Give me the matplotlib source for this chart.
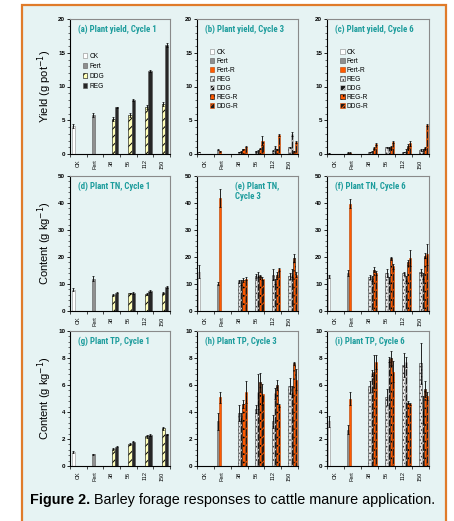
import numpy as np
import matplotlib
matplotlib.use("Agg")
import matplotlib.pyplot as plt
from matplotlib import font_manager
from matplotlib.patches import Rectangle, Patch
from matplotlib.ticker import AutoMinorLocator, MultipleLocator

# categories (x axis)
cats = ["CK", "Fert", "38", "56", "112", "150"]

# ---- Cycle 1: controls (CK, Fert) and rate series (DDG, REG)
c1_yield_ctrl = [4.1, 5.8]
c1_yield_ctrl_err = [0.3, 0.3]
c1_yield_ddg = [5.2, 5.8, 7.0, 7.4]
c1_yield_ddg_err = [0.3, 0.3, 0.3, 0.3]
c1_yield_reg = [6.9, 8.0, 12.3, 16.2]
c1_yield_reg_err = [0.1, 0.1, 0.2, 0.3]

c1_tn_ctrl = [7.9, 12.0]
c1_tn_ctrl_err = [0.6, 1.0]
c1_tn_ddg = [6.0, 6.5, 6.3, 6.7]
c1_tn_ddg_err = [0.4, 0.3, 0.3, 0.4]
c1_tn_reg = [6.8, 6.7, 7.4, 8.8]
c1_tn_reg_err = [0.3, 0.3, 0.3, 0.3]

c1_tp_ctrl = [1.05, 0.87]
c1_tp_ctrl_err = [0.05, 0.05]
c1_tp_ddg = [1.25, 1.62, 2.2, 2.8]
c1_tp_ddg_err = [0.08, 0.1, 0.12, 0.12]
c1_tp_reg = [1.43, 1.8, 2.3, 2.35]
c1_tp_reg_err = [0.05, 0.05, 0.05, 0.05]

# ---- Cycles 3 and 6: controls (CK, Fert, Fert-R), rates rows = REG, DDG, REG-R, DDG-R
c3_yield_ctrl = [0.3, 0.6, 0.4]
c3_yield_ctrl_err = [0.05, 0.08, 0.05]
c3_yield_rates = [[0.3, 0.4, 0.5, 1.0],
                  [0.4, 0.5, 1.0, 3.0],
                  [0.7, 0.8, 0.7, 0.4],
                  [1.1, 2.0, 2.8, 1.8]]
c3_yield_rates_err = [[0.05, 0.05, 0.1, 0.1],
                      [0.1, 0.1, 0.2, 0.3],
                      [0.1, 0.1, 0.1, 0.1],
                      [0.1, 0.7, 0.2, 0.2]]

c3_tn_ctrl = [14.6, 10.1, 41.8]
c3_tn_ctrl_err = [2.5, 0.5, 3.3]
c3_tn_rates = [[11.0, 13.0, 13.5, 13.0],
               [10.5, 13.5, 11.0, 14.0],
               [11.5, 13.0, 13.5, 19.5],
               [12.0, 12.0, 15.5, 13.5]]
c3_tn_rates_err = [[0.6, 0.8, 2.0, 1.0],
                   [0.8, 1.0, 1.0, 1.5],
                   [0.8, 0.5, 1.0, 1.5],
                   [0.5, 0.5, 0.5, 1.0]]

c3_tp_ctrl = [0.0, 3.3, 5.1]
c3_tp_ctrl_err = [0.0, 0.6, 0.4]
c3_tp_rates = [[3.9, 4.2, 3.3, 5.9],
               [3.6, 5.5, 5.4, 5.5],
               [4.6, 6.2, 6.0, 7.6],
               [5.5, 5.3, 4.5, 6.4]]
c3_tp_rates_err = [[0.6, 0.3, 0.5, 0.6],
                   [0.3, 1.3, 0.4, 0.4],
                   [0.3, 0.7, 0.35, 0.1],
                   [0.8, 0.8, 0.1, 0.8]]

c6_yield_ctrl = [0.1, 0.2, 0.2]
c6_yield_ctrl_err = [0.05, 0.05, 0.05]
c6_yield_rates = [[0.3, 1.0, 0.3, 0.6],
                  [0.4, 1.0, 0.5, 0.6],
                  [0.9, 1.0, 1.2, 0.9],
                  [1.5, 1.8, 1.6, 4.3]]
c6_yield_rates_err = [[0.05, 0.1, 0.05, 0.1],
                      [0.1, 0.1, 0.2, 0.1],
                      [0.1, 0.2, 0.3, 0.1],
                      [0.2, 0.1, 0.4, 0.2]]

c6_tn_ctrl = [12.9, 14.1, 39.8]
c6_tn_ctrl_err = [0.5, 1.0, 1.6]
c6_tn_rates = [[12.5, 14.0, 14.0, 14.5],
               [12.0, 11.5, 12.0, 13.0],
               [15.3, 19.5, 18.0, 20.5],
               [14.0, 16.5, 19.5, 21.0]]
c6_tn_rates_err = [[0.8, 1.5, 0.5, 1.0],
                   [0.8, 1.0, 1.0, 1.0],
                   [1.0, 0.5, 1.0, 1.0],
                   [0.8, 0.8, 3.0, 4.0]]

c6_tp_ctrl = [3.3, 2.7, 5.0]
c6_tp_ctrl_err = [0.4, 0.35, 0.5]
c6_tp_rates = [[5.9, 5.1, 7.5, 7.6],
               [6.9, 7.9, 7.7, 4.2],
               [7.0, 8.0, 4.7, 5.7],
               [7.7, 7.0, 4.6, 5.2]]
c6_tp_rates_err = [[0.4, 0.6, 0.9, 1.5],
                   [0.2, 0.2, 0.4, 1.0],
                   [1.2, 0.5, 0.1, 0.6],
                   [0.5, 0.8, 0.1, 0.3]]

# ---- fonts
names = {f.name for f in font_manager.fontManager.ttflist}
narrow = next((n for n in ["Liberation Sans Narrow", "DejaVu Sans Condensed", "Roboto Condensed"]
               if n in names), "Liberation Sans")
plt.rcParams['font.family'] = ['Liberation Sans', 'DejaVu Sans']
plt.rcParams['hatch.linewidth'] = 0.7

BG = '#e6f3f3'
ORANGE = '#ff5a00'
TEAL = '#1c9c9c'

# bar styles
st_ck = dict(color='white', edgecolor='#888888')
st_fert = dict(color='#8f8f8f', edgecolor='#5a5a5a')
st_fertr = dict(color=ORANGE, edgecolor='#b84000')
st_ddg1 = dict(color='#ffffb8', edgecolor='black', hatch='////')
st_reg1 = dict(color='#262626', edgecolor='#555555')
st_rates = [dict(color='#e8e8e8', edgecolor='#333333', hatch='.....'),  # REG
            dict(color='#1a1a1a', edgecolor='#dddddd', hatch='////'),   # DDG
            dict(color=ORANGE, edgecolor='black', hatch='....'),        # REG-R
            dict(color='#1a1a1a', edgecolor=ORANGE, hatch='////')]      # DDG-R

x = np.arange(len(cats))


def bar(ax, xs, h, w, err, st):
    ax.bar(xs, h, w, linewidth=0.4, **st)
    ax.errorbar(xs, h, yerr=err, fmt='none', ecolor='black', elinewidth=0.6,
                capsize=1, capthick=0.5)


def style(ax, ymax, ystep, title, tx=0.08):
    ax.set_facecolor(BG)
    ax.set_xlim(-0.5, 5.5)
    ax.set_ylim(0, ymax)
    ax.yaxis.set_major_locator(MultipleLocator(ystep))
    ax.yaxis.set_minor_locator(AutoMinorLocator(5))
    ax.set_xticks(x)
    ax.set_xticklabels(cats, rotation=90, fontsize=4)
    ax.set_xticks(np.arange(-0.5, 6, 1), minor=True)
    ax.tick_params(axis='x', which='major', length=0, pad=4)
    ax.tick_params(axis='x', which='minor', length=2, width=0.5)
    ax.tick_params(axis='y', which='major', length=2, width=0.6, labelsize=4.5, pad=1.5)
    ax.tick_params(axis='y', which='minor', length=1.2, width=0.4)
    for lab in ax.get_yticklabels():
        lab.set_fontweight('bold')
    for s in ['top', 'right']:
        ax.spines[s].set_color('#8a8a8a')
        ax.spines[s].set_linewidth(0.8)
    for s in ['left', 'bottom']:
        ax.spines[s].set_color('black')
        ax.spines[s].set_linewidth(0.8)
    ax.text(tx, 0.955, title, transform=ax.transAxes,
            ha='left', va='top', color=TEAL, fontsize=6.3, fontweight='bold',
            family=[narrow, 'DejaVu Sans'], linespacing=1.1)


def panel_c1(ax, ctrl, ctrl_err, ddg, ddg_err, reg, reg_err):
    w = 0.2
    bar(ax, [0 - 1.5 * w], [ctrl[0]], w, [ctrl_err[0]], st_ck)
    bar(ax, [1 - 0.5 * w], [ctrl[1]], w, [ctrl_err[1]], st_fert)
    bar(ax, x[2:] + 0.5 * w, ddg, w, ddg_err, st_ddg1)
    bar(ax, x[2:] + 1.5 * w, reg, w, reg_err, st_reg1)


def panel_c36(ax, ctrl, ctrl_err, rates, rates_err):
    w = 0.13
    if ctrl[0] > 0:
        bar(ax, [0 - 3 * w], [ctrl[0]], w, [ctrl_err[0]], st_ck)
    bar(ax, [1 - 2 * w], [ctrl[1]], w, [ctrl_err[1]], st_fert)
    bar(ax, [1 - 1 * w], [ctrl[2]], w, [ctrl_err[2]], st_fertr)
    for i in range(4):
        bar(ax, x[2:] + i * w, rates[i], w, rates_err[i], st_rates[i])


def legend(ax, labels, styles, loc, spacing):
    handles = [Patch(facecolor=s['color'], edgecolor=s['edgecolor'], hatch=s.get('hatch'),
                     linewidth=0.4) for s in styles]
    ax.legend(handles, labels, loc='upper left', bbox_to_anchor=loc, frameon=False,
              fontsize=4.8, handlelength=0.7, handleheight=0.7, handletextpad=0.3,
              labelspacing=spacing, borderaxespad=0)


fig = plt.figure(figsize=(4.54, 5.21), dpi=100)
fig.patch.set_facecolor('white')
fig.patches.append(Rectangle((22 / 454, -0.01), 424 / 454, 1 - 5 / 521 + 0.01,
                             transform=fig.transFigure, facecolor=BG,
                             edgecolor='#e07b2a', linewidth=1.6, zorder=-1))

lefts = [70 / 454, 197 / 454, 327 / 454]
widths = [100 / 454, 101 / 454, 102 / 454]
bottoms = [1 - 154 / 521, 1 - 311 / 521, 1 - 466 / 521]
h = 135 / 521
axs = [[fig.add_axes([lefts[c], bottoms[r], widths[c], h]) for c in range(3)] for r in range(3)]

# row 1: yield
panel_c1(axs[0][0], c1_yield_ctrl, c1_yield_ctrl_err, c1_yield_ddg, c1_yield_ddg_err,
         c1_yield_reg, c1_yield_reg_err)
panel_c36(axs[0][1], c3_yield_ctrl, c3_yield_ctrl_err, c3_yield_rates, c3_yield_rates_err)
panel_c36(axs[0][2], c6_yield_ctrl, c6_yield_ctrl_err, c6_yield_rates, c6_yield_rates_err)
style(axs[0][0], 20, 5, '(a) Plant yield, Cycle 1')
style(axs[0][1], 20, 5, '(b) Plant yield, Cycle 3')
style(axs[0][2], 20, 5, '(c) Plant yield, Cycle 6')

# row 2: TN
panel_c1(axs[1][0], c1_tn_ctrl, c1_tn_ctrl_err, c1_tn_ddg, c1_tn_ddg_err,
         c1_tn_reg, c1_tn_reg_err)
panel_c36(axs[1][1], c3_tn_ctrl, c3_tn_ctrl_err, c3_tn_rates, c3_tn_rates_err)
panel_c36(axs[1][2], c6_tn_ctrl, c6_tn_ctrl_err, c6_tn_rates, c6_tn_rates_err)
style(axs[1][0], 50, 10, '(d) Plant TN, Cycle 1')
style(axs[1][1], 50, 10, '(e) Plant TN,\nCycle 3', tx=0.38)
style(axs[1][2], 50, 10, '(f) Plant TN, Cycle 6')

# row 3: TP
panel_c1(axs[2][0], c1_tp_ctrl, c1_tp_ctrl_err, c1_tp_ddg, c1_tp_ddg_err,
         c1_tp_reg, c1_tp_reg_err)
panel_c36(axs[2][1], c3_tp_ctrl, c3_tp_ctrl_err, c3_tp_rates, c3_tp_rates_err)
panel_c36(axs[2][2], c6_tp_ctrl, c6_tp_ctrl_err, c6_tp_rates, c6_tp_rates_err)
style(axs[2][0], 10, 2, '(g) Plant TP, Cycle 1')
style(axs[2][1], 10, 2, '(h) Plant TP, Cycle 3')
style(axs[2][2], 10, 2, '(i) Plant TP, Cycle 6')

legend(axs[0][0], ['CK', 'Fert', 'DDG', 'REG'], [st_ck, st_fert, st_ddg1, st_reg1],
       (0.1, 0.77), 0.45)
lab7 = ['CK', 'Fert', 'Fert-R', 'REG', 'DDG', 'REG-R', 'DDG-R']
sty7 = [st_ck, st_fert, st_fertr] + st_rates
legend(axs[0][1], lab7, sty7, (0.1, 0.8), 0.3)
legend(axs[0][2], lab7, sty7, (0.1, 0.8), 0.3)

# y labels
ylabs = ['Yield (g pot$^{-1}$)', 'Content (g kg$^{-1}$)', 'Content (g kg$^{-1}$)']
for r in range(3):
    yc = bottoms[r] + h / 2
    fig.text(45 / 454, yc, ylabs[r], rotation=90, ha='center', va='center', fontsize=8)

# caption
t1 = fig.text(30 / 454, 1 - 500 / 521, 'Figure 2.', fontsize=10.4, fontweight='bold',
              ha='left', va='center')
axs[2][0].annotate(' Barley forage responses to cattle manure application.', xy=(1, 0),
                   xycoords=t1, ha='left', va='bottom', fontsize=10.4,
                   annotation_clip=False)

fig.savefig('out.png', dpi=100, facecolor='white')
